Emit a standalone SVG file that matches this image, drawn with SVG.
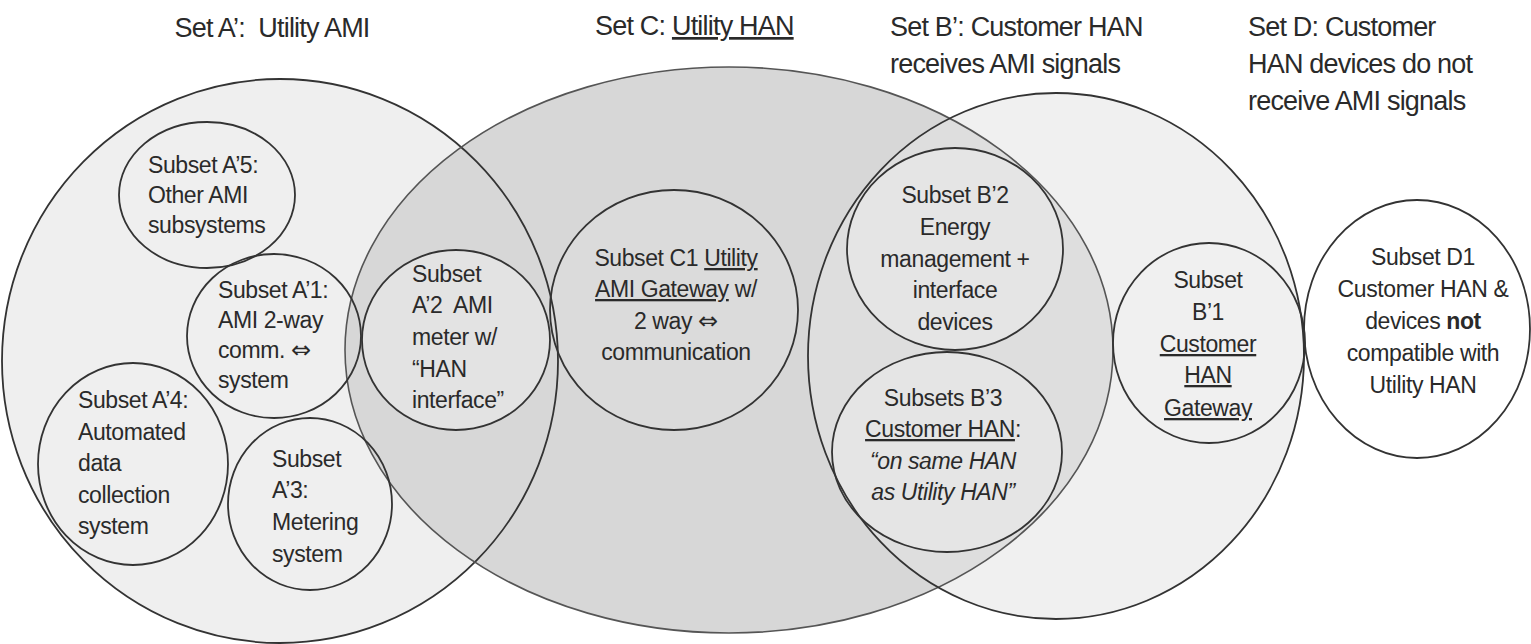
<svg xmlns="http://www.w3.org/2000/svg" width="1531" height="644" viewBox="0 0 1531 644">
<style>
.o{fill:none;stroke:#333;stroke-width:1.8}
.ol{fill:none;stroke:#555;stroke-width:1.6}
.t{font-family:"Liberation Sans","DejaVu Sans",Arial,sans-serif;font-size:23px;letter-spacing:-0.4px;fill:#2a2a2a}
.h{font-family:"Liberation Sans","DejaVu Sans",Arial,sans-serif;font-size:27px;letter-spacing:-0.8px;fill:#2a2a2a}
.m{text-anchor:middle}
.u{text-decoration:underline}
.i{font-style:italic}
.b{font-weight:bold}
.ar{font-family:"DejaVu Sans",sans-serif;font-size:24px;letter-spacing:0}
</style>
<rect width="1531" height="644" fill="#ffffff"/>
<g id="fills">
<ellipse cx="280" cy="361" rx="278" ry="282" fill="#efefef"/>
<ellipse cx="729" cy="350" rx="384" ry="283" fill="#d7d7d7"/>
<ellipse cx="1056" cy="356" rx="248" ry="263" fill="#e4e4e4" fill-opacity="0.55"/>
<ellipse cx="456" cy="340" rx="94" ry="90" fill="#e3e3e3"/>
<ellipse cx="674" cy="310" rx="124" ry="120" fill="#dbdbdb"/>
<ellipse cx="955" cy="249" rx="108" ry="101" fill="#e5e5e5"/>
<ellipse cx="947" cy="452" rx="115" ry="100" fill="#e5e5e5"/>
<ellipse cx="1417" cy="329" rx="113" ry="129" fill="#ffffff"/>
</g>
<g id="set-a">
<ellipse class="o" cx="280" cy="361" rx="278" ry="282"/>
<text class="h" x="272" y="37" text-anchor="middle">Set A’:&#160; Utility AMI</text>
</g>
<g id="set-c">
<ellipse class="ol" cx="729" cy="350" rx="384" ry="283"/>
<text class="h" x="595" y="35">Set C: <tspan class="u">Utility HAN</tspan></text>
</g>
<g id="set-b">
<ellipse class="o" cx="1056" cy="356" rx="248" ry="263"/>
<text class="h" x="890" y="36">Set B’: Customer HAN</text>
<text class="h" x="890" y="73">receives AMI signals</text>
</g>
<g id="set-d">
<text class="h" x="1248" y="36">Set D: Customer</text>
<text class="h" x="1248" y="73">HAN devices do not</text>
<text class="h" x="1248" y="110">receive AMI signals</text>
</g>
<g id="subset-a5">
<ellipse class="o" cx="207" cy="195" rx="88" ry="73"/>
<text class="t" x="148" y="173">Subset A’5:</text>
<text class="t" x="148" y="203">Other AMI</text>
<text class="t" x="148" y="233">subsystems</text>
</g>
<g id="subset-a1">
<ellipse class="o" cx="274" cy="336" rx="87" ry="82"/>
<text class="t" x="218" y="298">Subset A’1:</text>
<text class="t" x="218" y="328">AMI 2-way</text>
<text class="t" x="218" y="358">comm. <tspan class="ar">⇔</tspan></text>
<text class="t" x="218" y="388">system</text>
</g>
<g id="subset-a4">
<ellipse class="o" cx="133" cy="464" rx="95" ry="101"/>
<text class="t" x="78" y="408">Subset A’4:</text>
<text class="t" x="78" y="440">Automated</text>
<text class="t" x="78" y="471">data</text>
<text class="t" x="78" y="503">collection</text>
<text class="t" x="78" y="534">system</text>
</g>
<g id="subset-a3">
<ellipse class="o" cx="310" cy="504" rx="82" ry="86"/>
<text class="t" x="272" y="467">Subset</text>
<text class="t" x="272" y="498">A’3:</text>
<text class="t" x="272" y="530">Metering</text>
<text class="t" x="272" y="562">system</text>
</g>
<g id="subset-a2">
<ellipse class="o" cx="456" cy="340" rx="94" ry="90"/>
<text class="t" x="412" y="282">Subset</text>
<text class="t" x="412" y="313">A’2&#160; AMI</text>
<text class="t" x="412" y="345">meter w/</text>
<text class="t" x="412" y="377">“HAN</text>
<text class="t" x="412" y="408">interface”</text>
</g>
<g id="subset-c1">
<ellipse class="o" cx="674" cy="310" rx="124" ry="120"/>
<text class="t m" x="676" y="266">Subset C1 <tspan class="u">Utility</tspan></text>
<text class="t m" x="676" y="297"><tspan class="u">AMI Gateway</tspan> w/</text>
<text class="t m" x="676" y="329">2 way <tspan class="ar">⇔</tspan></text>
<text class="t m" x="676" y="360">communication</text>
</g>
<g id="subset-b2">
<ellipse class="o" cx="955" cy="249" rx="108" ry="101"/>
<text class="t m" x="955" y="203">Subset B’2</text>
<text class="t m" x="955" y="235">Energy</text>
<text class="t m" x="955" y="267">management +</text>
<text class="t m" x="955" y="298">interface</text>
<text class="t m" x="955" y="330">devices</text>
</g>
<g id="subset-b3">
<ellipse class="o" cx="947" cy="452" rx="115" ry="100"/>
<text class="t m" x="943" y="406">Subsets B’3</text>
<text class="t m" x="943" y="437"><tspan class="u">Customer HAN</tspan>:</text>
<text class="t m i" x="943" y="469">“on same HAN</text>
<text class="t m i" x="943" y="500">as Utility HAN”</text>
</g>
<g id="subset-b1">
<ellipse class="o" cx="1209" cy="343" rx="96" ry="100"/>
<text class="t m" x="1208" y="288">Subset</text>
<text class="t m" x="1208" y="320">B’1</text>
<text class="t m u" x="1208" y="352">Customer</text>
<text class="t m u" x="1208" y="383">HAN</text>
<text class="t m u" x="1208" y="416">Gateway</text>
</g>
<g id="subset-d1">
<ellipse class="o" cx="1417" cy="329" rx="113" ry="129"/>
<text class="t m" x="1423" y="265">Subset D1</text>
<text class="t m" x="1423" y="297">Customer HAN &amp;</text>
<text class="t m" x="1423" y="329">devices <tspan class="b">not</tspan></text>
<text class="t m" x="1423" y="361">compatible with</text>
<text class="t m" x="1423" y="393">Utility HAN</text>
</g>
<g id="connectors"/>
</svg>
